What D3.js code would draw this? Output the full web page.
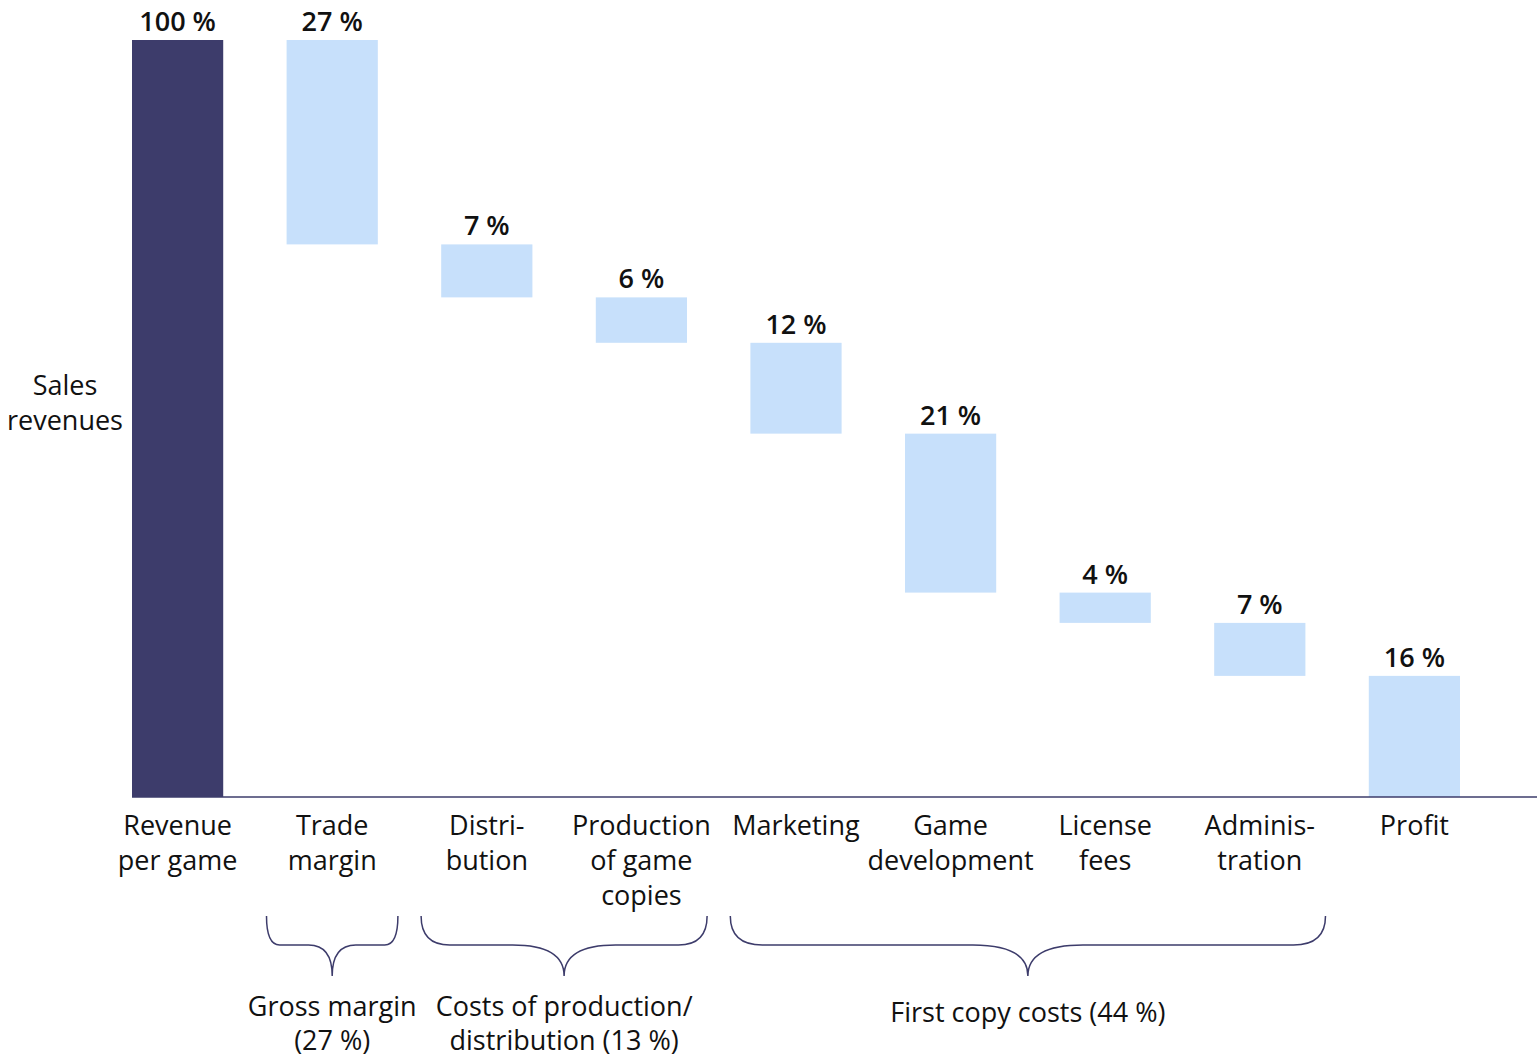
<!DOCTYPE html>
<html>
<head>
<meta charset="utf-8">
<script src="https://cdn.jsdelivr.net/npm/d3@7"></script>
<style>
  html, body { margin: 0; padding: 0; background: #fff; }
  svg { display: block; font-family: "Open Sans", "Noto Sans", sans-serif; }
</style>
</head>
<body>
<svg id="chart" width="1537" height="1059"></svg>
<script>
// Cost structure of a video game, as share of the revenue per game
const categories = ["Revenue per game", "Trade margin", "Distri-bution", "Production of game copies",
  "Marketing", "Game development", "License fees", "Adminis-tration", "Profit"];
const categoryLines = [
  ["Revenue", "per game"], ["Trade", "margin"], ["Distri-", "bution"], ["Production", "of game", "copies"],
  ["Marketing"], ["Game", "development"], ["License", "fees"], ["Adminis-", "tration"], ["Profit"]
];
const values = [100, 27, 7, 6, 12, 21, 4, 7, 16];
const kinds = ["total", "step", "step", "step", "step", "step", "step", "step", "rest"];
const valueLabels = ["100 %", "27 %", "7 %", "6 %", "12 %", "21 %", "4 %", "7 %", "16 %"];

const groupNames = [["Gross margin", "(27 %)"], ["Costs of production/", "distribution (13 %)"], ["First copy costs (44 %)"]];
const groupFirst = [1, 2, 4];
const groupLast = [1, 3, 7];

const svg = d3.select("#chart");
const baseY = 797, topY = 40;
const darkColor = "#3d3c6b", lightColor = "#c7e0fb";
const textColor = "#111";
const fontSize = 27;

const x = d3.scaleBand().domain(categories).range([132, 1460]).paddingInner(0.41).paddingOuter(0);
const y = d3.scaleLinear().domain([0, 100]).range([baseY, topY]);

// running totals for the waterfall
let level = 0;
const bars = categories.map((c, i) => {
  let lo, hi;
  if (kinds[i] === "total") { lo = 0; hi = values[i]; level = values[i]; }
  else if (kinds[i] === "rest") { lo = 0; hi = values[i]; }
  else { hi = level; lo = level - values[i]; level = lo; }
  return { cat: c, lo, hi, kind: kinds[i], label: valueLabels[i], lines: categoryLines[i] };
});

svg.selectAll("rect.bar").data(bars).join("rect")
  .attr("class", "bar")
  .attr("x", d => x(d.cat))
  .attr("width", x.bandwidth())
  .attr("y", d => y(d.hi))
  .attr("height", d => y(d.lo) - y(d.hi))
  .attr("fill", d => d.kind === "total" ? darkColor : lightColor);

// baseline
svg.append("line")
  .attr("x1", 132).attr("x2", 1537)
  .attr("y1", baseY).attr("y2", baseY)
  .attr("stroke", darkColor).attr("stroke-width", 1.5);

// value labels
svg.selectAll("text.val").data(bars).join("text")
  .attr("class", "val")
  .attr("x", d => x(d.cat) + x.bandwidth() / 2)
  .attr("y", d => y(d.hi) - 9)
  .attr("text-anchor", "middle")
  .attr("font-size", fontSize).attr("font-weight", 600)
  .attr("fill", textColor)
  .text(d => d.label);

// category labels
const catText = svg.selectAll("text.cat").data(bars).join("text")
  .attr("class", "cat")
  .attr("text-anchor", "middle")
  .attr("font-size", fontSize)
  .attr("fill", textColor);
catText.selectAll("tspan").data(d => d.lines.map(l => ({ l, cx: x(d.cat) + x.bandwidth() / 2 })))
  .join("tspan")
  .attr("x", d => d.cx)
  .attr("y", (d, i) => 835 + i * 35)
  .text(d => d.l);

// y-axis caption
svg.append("text")
  .attr("text-anchor", "middle").attr("font-size", fontSize).attr("fill", textColor)
  .selectAll("tspan").data(["Sales", "revenues"]).join("tspan")
  .attr("x", 65).attr("y", (d, i) => 395 + i * 35)
  .text(d => d);

// group braces
const braceTop = 916, braceMid = 945, braceTip = 976;
groupNames.forEach((name, g) => {
  const step = x.step();
  const x0 = x(categories[groupFirst[g]]) - 0.13 * step;
  const x1 = x(categories[groupLast[g]]) + x.bandwidth() + 0.13 * step;
  const cx = (x0 + x1) / 2;
  const w = x1 - x0;
  const r = Math.min(32, w * 0.1);
  const r2 = Math.min(55, w * 0.18);
  const p = d3.path();
  p.moveTo(x0, braceTop);
  p.quadraticCurveTo(x0, braceMid, x0 + r, braceMid);
  p.lineTo(cx - r2, braceMid);
  p.quadraticCurveTo(cx, braceMid, cx, braceTip);
  p.quadraticCurveTo(cx, braceMid, cx + r2, braceMid);
  p.lineTo(x1 - r, braceMid);
  p.quadraticCurveTo(x1, braceMid, x1, braceTop);
  svg.append("path").attr("d", p.toString())
    .attr("fill", "none").attr("stroke", darkColor).attr("stroke-width", 1.5);

  const firstBase = name.length === 1 ? 1022 : 1016;
  svg.append("text")
    .attr("text-anchor", "middle").attr("font-size", fontSize).attr("fill", textColor)
    .selectAll("tspan").data(name).join("tspan")
    .attr("x", cx).attr("y", (d, i) => firstBase + i * 34)
    .text(d => d);
});
</script>
</body>
</html>
